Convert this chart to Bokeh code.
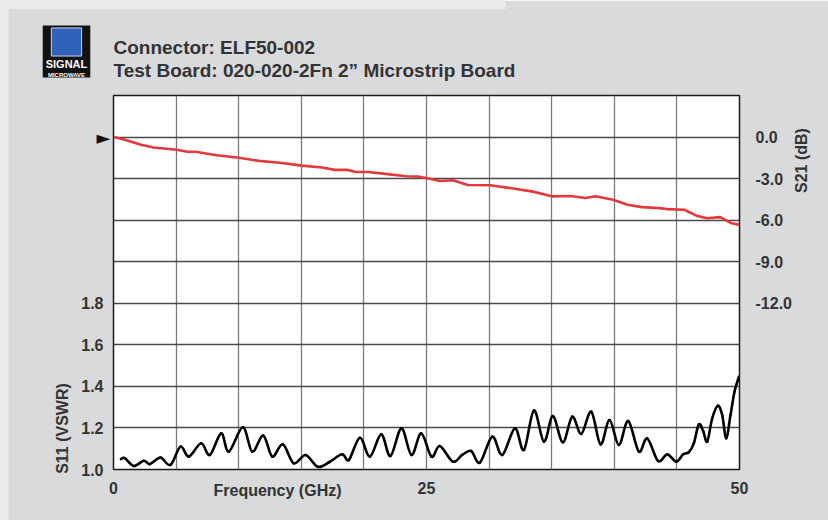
from bokeh.plotting import figure
from bokeh.models import Range1d, LinearAxis, FixedTicker, NumeralTickFormatter, Label
from bokeh.embed import file_html
from bokeh.resources import INLINE

# ---------------- data ----------------
title_line1 = "Connector: ELF50-002"
title_line2 = "Test Board: 020-020-2Fn 2\u201d Microstrip Board"
x_title = "Frequency (GHz)"
y_title = "S11 (VSWR)"
y2_title = "S21 (dB)"

freq_ticks = [0, 25, 50]
freq_grid = [0, 5, 10, 15, 20, 25, 30, 35, 40, 45, 50]
vswr_ticks = [1.0, 1.2, 1.4, 1.6, 1.8]
vswr_grid = [1.0, 1.2, 1.4, 1.6, 1.8, 2.0, 2.2, 2.4, 2.6, 2.8]
s21_ticks = [0.0, -3.0, -6.0, -9.0, -12.0]
s21_marker = 0.0   # reference level marked by the arrow

s21_freq = [0, 0.84, 2.19, 3.2, 5.05, 5.9, 6.56, 8.24, 10.03, 11.6, 13.3, 15.04,
            16.66, 17.67, 18.67, 19.35, 20.36, 21.7, 23.4, 24.4, 25.07, 26.08,
            27.1, 28.3, 30.1, 31.8, 33.5, 35.0, 36.5, 37.7, 38.5, 39.9, 41.05,
            42.2, 43.6, 44.2, 45.6, 46.6, 47.4, 48.45, 49.3, 50]
s21_db = [0, -0.17, -0.56, -0.75, -0.92, -1.06, -1.06, -1.31, -1.5, -1.72, -1.86,
          -2.06, -2.2, -2.37, -2.37, -2.52, -2.52, -2.66, -2.83, -2.86, -2.98,
          -3.17, -3.12, -3.46, -3.48, -3.7, -3.94, -4.28, -4.26, -4.4, -4.28,
          -4.52, -4.89, -5.06, -5.13, -5.2, -5.25, -5.69, -5.86, -5.78, -6.2, -6.34]

s11_freq = [0.6, 0.9, 1.62, 2.42, 2.9, 3.75, 4.55, 5.35, 6.02, 7.0, 7.7, 8.6, 9.21,
            10.33, 11.08, 11.96, 12.68, 13.52, 14.4, 15.34, 16.32, 17.25, 18.26,
            18.8, 19.68, 20.48, 21.38, 22.12, 23.0, 23.8, 24.58, 25.4, 26.06,
            27.1, 27.85, 28.57, 29.26, 30.25, 31.05, 32.06, 32.78, 33.58, 34.38,
            35.09, 35.89, 36.64, 37.36, 38.16, 38.9, 39.62, 40.36, 41.11, 41.96,
            42.63, 43.5, 44.23, 44.95, 45.5, 45.95, 46.35, 46.75, 47.1, 47.42,
            47.82, 48.27, 48.62, 48.94, 49.28, 49.6, 49.95]
s11_vswr = [1.05, 1.055, 1.017, 1.042, 1.026, 1.057, 1.022, 1.11, 1.062, 1.126,
            1.07, 1.174, 1.086, 1.203, 1.086, 1.163, 1.062, 1.121, 1.03, 1.07,
            1.013, 1.036, 1.073, 1.046, 1.153, 1.062, 1.169, 1.065, 1.198, 1.07,
            1.174, 1.062, 1.113, 1.038, 1.07, 1.089, 1.033, 1.158, 1.07, 1.198,
            1.094, 1.284, 1.134, 1.257, 1.131, 1.254, 1.171, 1.278, 1.121, 1.238,
            1.118, 1.233, 1.086, 1.15, 1.041, 1.073, 1.038, 1.073, 1.083, 1.126,
            1.217, 1.185, 1.134, 1.246, 1.307, 1.262, 1.15, 1.262, 1.374, 1.446]

# ---------------- layout constants ----------------
W, H = 828, 520
FL, FT, FR, FB = 113, 95, 739, 469          # frame edges (px)
FONT = "Liberation Sans"
TXT = "#333333"
BG = "#d9dadc"
S21_RANGE = (-24.0, 3.0)

# ---------------- main chart ----------------
p = figure(width=W, height=H, output_backend="svg", toolbar_location=None,
           x_range=Range1d(0, 50), y_range=Range1d(1.0, 2.8),
           min_border_left=FL, min_border_right=W - FR, min_border_top=FT,
           min_border_bottom=H - FB)
p.background_fill_color = "white"
p.border_fill_color = BG
p.outline_line_color = "#1a1a1a"
p.outline_line_width = 1.5


def style_axis(ax, standoff):
    ax.axis_line_color = None
    ax.major_tick_line_color = None
    ax.minor_tick_line_color = None
    ax.major_tick_out = 0
    ax.major_tick_in = 0
    ax.minor_tick_out = 0
    ax.major_label_text_font = FONT
    ax.major_label_text_font_style = "bold"
    ax.major_label_text_font_size = "16px"
    ax.major_label_text_color = TXT
    ax.major_label_standoff = standoff


p.xaxis.ticker = FixedTicker(ticks=freq_ticks)
style_axis(p.xaxis[0], 12)
p.yaxis.ticker = FixedTicker(ticks=vswr_ticks)
p.yaxis.formatter = NumeralTickFormatter(format="0.0")
style_axis(p.yaxis[0], 10)

p.extra_y_ranges = {"s21": Range1d(*S21_RANGE)}
rax = LinearAxis(y_range_name="s21", ticker=FixedTicker(ticks=s21_ticks),
                 formatter=NumeralTickFormatter(format="0.0"))
style_axis(rax, 16)
p.add_layout(rax, "right")

p.xgrid.ticker = FixedTicker(ticks=freq_grid)
p.ygrid.ticker = FixedTicker(ticks=vswr_grid)
p.xgrid.grid_line_color = "#7a7a7a"
p.ygrid.grid_line_color = "#4a4a4a"
p.xgrid.grid_line_width = 1.3
p.ygrid.grid_line_width = 1.3

p.line(s21_freq, s21_db, y_range_name="s21", line_color="#e03a3c", line_width=2.6,
       line_join="round")


def smooth_segments(xs, ys):
    """Catmull-Rom curve through the read points, as cubic Bezier segments."""
    n = len(xs)
    out = {k: [] for k in ("x0", "y0", "x1", "y1", "cx0", "cy0", "cx1", "cy1")}
    for i in range(n - 1):
        a = max(i - 1, 0)
        d = min(i + 2, n - 1)
        out["x0"].append(xs[i]); out["y0"].append(ys[i])
        out["x1"].append(xs[i + 1]); out["y1"].append(ys[i + 1])
        out["cx0"].append(xs[i] + (xs[i + 1] - xs[a]) / 6.0)
        out["cy0"].append(ys[i] + (ys[i + 1] - ys[a]) / 6.0)
        out["cx1"].append(xs[i + 1] - (xs[d] - xs[i]) / 6.0)
        out["cy1"].append(ys[i + 1] - (ys[d] - ys[i]) / 6.0)
    return out


seg = smooth_segments(s11_freq, s11_vswr)
p.bezier(x0=seg["x0"], y0=seg["y0"], x1=seg["x1"], y1=seg["y1"],
         cx0=seg["cx0"], cy0=seg["cy0"], cx1=seg["cx1"], cy1=seg["cy1"],
         line_color="#000000", line_width=2.6, line_cap="round")


# ------------- texts / decorations outside the frame (canvas px, y from top) ----
# Each label sits in a side panel (so it is not clipped to the plot frame); the
# panels are chosen so their stacked sizes stay inside the fixed borders.
def txt(side, px, py, text, size, align="left", baseline="alphabetic", angle=0.0,
        color=TXT, style="bold", font=FONT, **kw):
    p.add_layout(Label(x=px, y=py, x_units="canvas", y_units="canvas", text=text,
                       text_font=font, text_font_style=style, text_font_size=size,
                       text_color=color, text_align=align, text_baseline=baseline,
                       angle=angle, **kw), side)


def block(side, cx, cy, pl, pr, pt, pb, color, border=None, level="annotation"):
    p.add_layout(Label(x=cx, y=cy, x_units="canvas", y_units="canvas", text=" ",
                       text_font_size="1px", text_align="center",
                       text_baseline="middle", background_fill_color=color,
                       background_fill_alpha=1, border_line_color=border,
                       padding=dict(left=pl, right=pr, top=pt, bottom=pb),
                       level=level), side)


# page strips behind the grey panel
block("above", 252, 4, 253, 253, 4, 4, "#ebebed", level="guide")
block("left", 4, 260, 4, 4, 260, 260, "#ebebed", level="guide")

# logo: black tile carrying "SIGNAL" (box anchored at its centre), blue emblem,
# "MICROWAVE"
txt("left", 66, 51, "SIGNAL", "11px", align="center", baseline="middle",
    color="white", background_fill_color="#111111", background_fill_alpha=1,
    padding=dict(left=3, right=3, top=32, bottom=8), level="guide")
block("above", 66, 41.5, 15, 15, 14, 13, "#2f62b8", border="#c9d5ef")
txt("above", 66, 74.5, "MICROWAVE", "6px", align="center", color="white")

# titles
txt("above", 113, 47, title_line1, "19px")
txt("above", 113, 69.5, title_line2, "19px")

# reference arrow at the 0 dB level of the S21 axis
y_mark = FT + (S21_RANGE[1] - s21_marker) / (S21_RANGE[1] - S21_RANGE[0]) * (FB - FT)
txt("right", 96, y_mark, "\u25BA", "18px", baseline="middle", color="#111111",
    style="normal", font="DejaVu Sans")

# axis titles
txt("below", 277, 490, x_title, "16px", align="center", baseline="middle")
txt("left", 62, 428, y_title, "16px", align="center", baseline="middle",
    angle=1.5708)
txt("right", 801, 160, y2_title, "16px", align="center", baseline="middle",
    angle=1.5708)

open("out.html", "w").write(file_html(p, INLINE))
